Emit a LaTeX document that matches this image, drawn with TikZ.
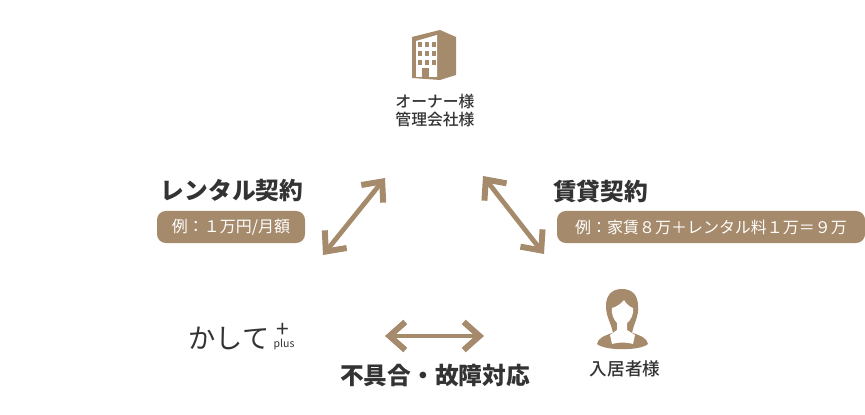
\documentclass[tikz,border=0pt]{standalone}
\usepackage{fontspec}
\setmainfont{Noto Sans CJK JP}
\newfontfamily\mediumfont{Noto Sans CJK JP Medium}
\usetikzlibrary{arrows.meta}
\definecolor{brownish}{HTML}{A68A6C}
\definecolor{inkdark}{HTML}{333333}
\tikzset{
  title/.style={text=inkdark,font=\bfseries\fontsize{13.5}{16}\selectfont,inner sep=0pt},
  party/.style={text=inkdark,font=\mediumfont\fontsize{9}{10.8}\selectfont,inner sep=0pt,align=center},
  pill/.style={fill=brownish,text=white,rounded corners=5pt,inner sep=0pt,font=\fontsize{9.1}{11}\selectfont,minimum height=32*0.02cm},
  twoway/.style={draw=brownish,line width=2.7pt,{Straight Barb[length=9pt,width=16pt,line width=3.4pt]}-{Straight Barb[length=9pt,width=16pt,line width=3.4pt]}}
}
\begin{document}
\begin{tikzpicture}[x=0.02cm,y=-0.02cm]
\useasboundingbox (0,0) rectangle (865,415);
%building
\fill[brownish] (412,37)--(440,30)--(456,37)--(456,75)--(440,80)--(412,78)--cycle;
\fill[white] (416,41)--(437,35)--(437,77)--(416,77)--cycle;
\foreach \x in {418,425,432}
  \foreach \y in {42,51,60}
    \fill[brownish] (\x,\y) rectangle +(4,5);
\fill[brownish] (422,68) rectangle (429,77);
\node[party] (owner) at (435,110.5) {オーナー様\\管理会社様};
%person
\fill[brownish] (622,289) .. controls (611,289) and (606,296) .. (606,306)
  .. controls (606,318) and (612,324) .. (613,334) -- (632,334)
  .. controls (633,324) and (639,318) .. (638,306)
  .. controls (638,296) and (633,289) .. (622,289) -- cycle;
\fill[brownish] (597,344) .. controls (598,338) and (604,336) .. (612,333) -- (633,333)
  .. controls (641,336) and (647,338) .. (648,344)
  .. controls (640,351) and (605,351) .. (597,344) -- cycle;
\fill[white] (624,300) .. controls (621,304) and (616,307) .. (612,308)
  .. controls (611,314) and (614,320) .. (617,323) -- (617,330) -- (610,335) -- (612,344)
  .. controls (618,342) and (627,342) .. (633,344) -- (635,335) -- (627,330) -- (627,323)
  .. controls (631,320) and (634,314) .. (633,308)
  .. controls (630,307) and (626,304) .. (624,300) -- cycle;
\node[party,font=\mediumfont\fontsize{10}{12}\selectfont] (tenant) at (625,369) {入居者様};
%labels
\node[title] (rental) at (232,191) {レンタル契約};
\node[title] (lease) at (600.5,191) {賃貸契約};
\node[title] (repair) at (435,375) {不具合・故障対応};
\node[pill,minimum width=148*0.02cm] (rentalpill) at (231,227) {例：１万円/月額};
\node[pill,minimum width=308*0.02cm] (leasepill) at (711,227) {例：家賃８万＋レンタル料１万＝９万};
%logo
\node[text=inkdark,inner sep=0pt,font=\fontsize{15.5}{18}\selectfont] (kashite) at (229,338) {かして};
\node[text=inkdark,inner sep=0pt,font=\fontsize{13}{15}\selectfont] (logoplus) at (283,330) {+};
\node[text=inkdark,inner sep=0pt,font=\fontsize{6}{7}\selectfont] (logosmall) at (284,345) {plus};
%arrows
\coordinate (a1) at (323,255);
\coordinate (a2) at (385,178);
\coordinate (b1) at (483,176);
\coordinate (b2) at (544,254);
\coordinate (c1) at (385,336);
\coordinate (c2) at (484,336);
\draw[twoway] (a1)--(a2);
\draw[twoway] (b1)--(b2);
\draw[twoway] (c1)--(c2);
\end{tikzpicture}
\end{document}
